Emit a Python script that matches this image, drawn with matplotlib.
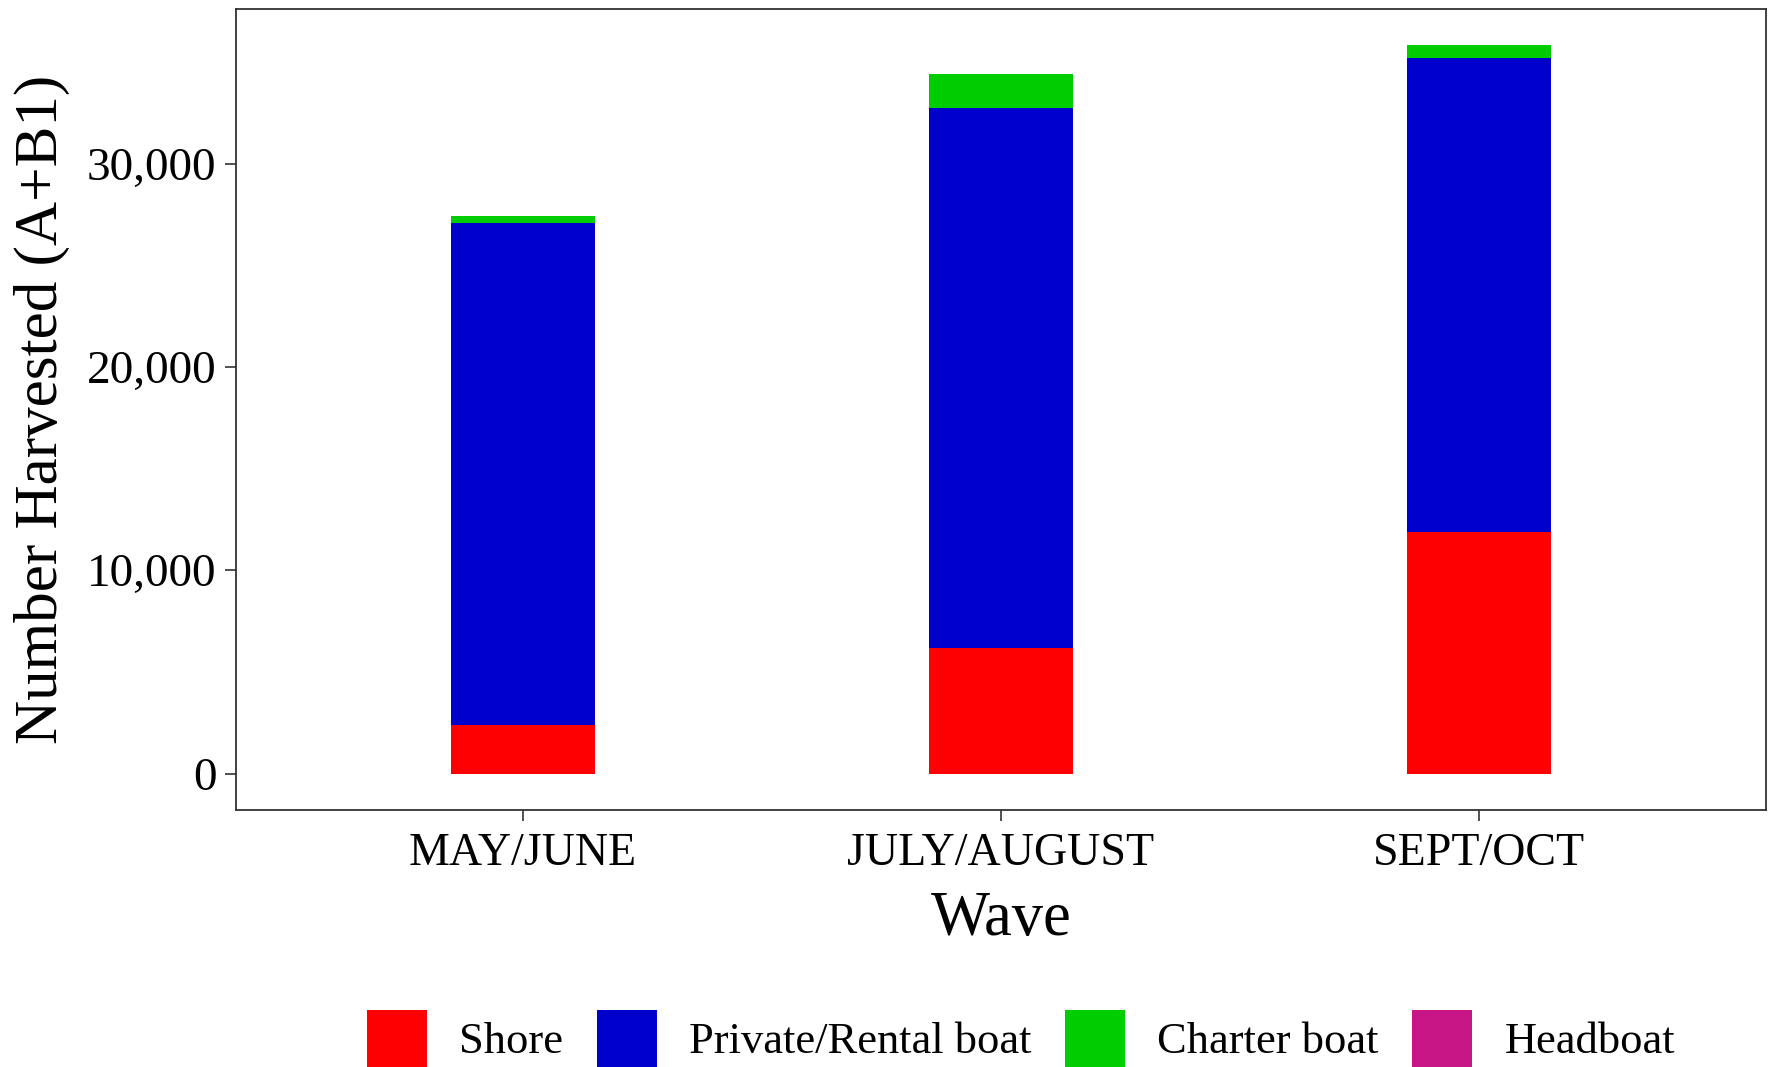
import matplotlib
matplotlib.use("Agg")
import matplotlib.pyplot as plt
from matplotlib.patches import Patch
from matplotlib.ticker import FuncFormatter
import numpy as np

waves = ["MAY/JUNE", "JULY/AUGUST", "SEPT/OCT"]
shore = [2400, 6170, 11860]
private_rental = [24700, 26540, 23310]
charter = [330, 1670, 640]
headboat = [0, 0, 0]

series_names = ["Shore", "Private/Rental boat", "Charter boat", "Headboat"]
series_colors = ["#FF0000", "#0000CD", "#00CD00", "#C71585"]

plt.rcParams['font.family'] = ['Liberation Serif', 'DejaVu Serif']

fig = plt.figure(figsize=(17.69, 10.67), dpi=100)
ax = fig.add_axes([236/1769, 1 - 810/1067, (1766-236)/1769, (810-9)/1067])

x = np.arange(1, len(waves) + 1)
bottom = np.zeros(len(waves))
for vals, name, col in zip([shore, private_rental, charter, headboat], series_names, series_colors):
    v = np.array(vals, dtype=float)
    ax.bar(x, v, width=0.3, bottom=bottom, color=col, label=name, linewidth=0)
    bottom += v

top = bottom.max()
ax.set_xlim(0.4, 3.6)
ax.set_ylim(-0.05 * top, top * 1.05)
ax.set_xticks(x)
ax.set_xticklabels(waves, fontsize=33)
ax.set_yticks([0, 10000, 20000, 30000])
ax.yaxis.set_major_formatter(FuncFormatter(lambda v, p: f"{int(v):,}"))
ax.tick_params(axis='y', labelsize=34, length=8, width=1.2, color='#333333', pad=6)
ax.tick_params(axis='x', length=8, width=1.2, color='#333333', pad=8)
for s in ax.spines.values():
    s.set_color('#333333')
    s.set_linewidth(1.3)

ax.set_xlabel("Wave", fontsize=45, labelpad=12)
ax.set_ylabel("Number Harvested (A+B1)", fontsize=44, labelpad=12)

handles = [Patch(facecolor=c, edgecolor='none', label=n) for n, c in zip(series_names, series_colors)]
fig.legend(handles=handles, loc='upper center', bbox_to_anchor=(1021/1769, 1 - 1010/1067),
           ncol=4, frameon=False, fontsize=32, handlelength=1.35, handleheight=1.6,
           handletextpad=0.72, columnspacing=0.76, borderaxespad=0, borderpad=0)

fig.savefig("out.png", dpi=100)
